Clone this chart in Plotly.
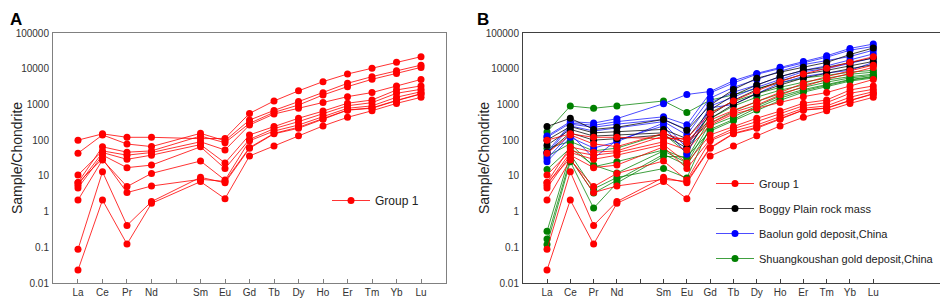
import plotly.graph_objects as go

elements = ["La", "Ce", "Pr", "Nd", "Sm", "Eu", "Gd", "Tb", "Dy", "Ho", "Er", "Tm", "Yb", "Lu"]
axis_categories = ["La", "Ce", "Pr", "Nd", " ", "Sm", "Eu", "Gd", "Tb", "Dy", "Ho", "Er", "Tm", "Yb", "Lu"]
axis_labels = ["La", "Ce", "Pr", "Nd", "", "Sm", "Eu", "Gd", "Tb", "Dy", "Ho", "Er", "Tm", "Yb", "Lu"]
y_tickvals = [0.01, 0.1, 1, 10, 100, 1000, 10000, 100000]
y_ticktext = ["0.01", "0.1", "1", "10", "100", "1000", "10000", "100000"]

group1 = [
    [100, 150, 120, 120, 110, 112, 560, 1250, 2400, 4350, 7100, 10300, 15100, 21700],
    [43, 140, 78, 66, 155, 96, 365, 680, 1200, 2130, 3900, 6000, 8800, 12600],
    [6.5, 65, 46, 50, 130, 85, 295, 600, 960, 1840, 3150, 5050, 7400, 10900],
    [10.5, 50, 38, 45, 90, 53, 265, 540, 780, 1140, 1650, 2150, 3300, 5000],
    [5.5, 45, 29, 38, 75, 23, 140, 240, 410, 650, 1080, 1330, 2540, 3300],
    [4.6, 38, 17, 20, 65, 16, 105, 210, 330, 540, 920, 1120, 2050, 2650],
    [2.1, 28, 5.0, 11.7, 26, 7.6, 96, 180, 265, 455, 780, 910, 1590, 2270],
    [6.4, 30, 3.4, 5.2, 8.0, 7.0, 62, 155, 230, 400, 700, 800, 1300, 2000],
    [0.088, 13, 0.41, 1.9, 9.1, 6.4, 59, 150, 215, 385, 690, 780, 1270, 1960],
    [0.023, 2.1, 0.123, 1.7, 6.9, 2.3, 36, 69, 133, 250, 435, 665, 1070, 1580],
]

boggy_plain = [
    [240, 410, 200, 230, 380, 190, 950, 2600, 5400, 8000, 11000, 15000, 25000, 38000],
    [100, 240, 160, 170, 200, 110, 700, 1800, 3500, 6000, 9000, 11000, 15000, 20000],
    [72, 200, 130, 140, 160, 80, 500, 1300, 2600, 4500, 7000, 9000, 12000, 16000],
    [45, 160, 100, 110, 140, 60, 400, 1000, 2000, 3500, 5500, 7500, 10000, 13000],
]

baolun = [
    [130, 330, 300, 400, 1050, 1900, 2300, 4600, 7400, 11000, 15800, 23000, 37000, 49000],
    [120, 300, 260, 330, 450, 270, 2100, 4000, 7000, 10000, 15000, 21000, 33000, 42000],
    [46, 280, 230, 280, 380, 200, 1500, 3000, 5000, 8500, 13000, 17000, 22000, 33000],
    [40, 250, 180, 220, 330, 140, 1100, 2200, 3500, 6000, 9000, 12000, 17500, 26000],
    [25, 120, 60, 90, 300, 60, 900, 1600, 3000, 5000, 8300, 10000, 14000, 20000],
    [30, 150, 31, 100, 250, 40, 800, 1000, 2000, 4000, 6000, 7600, 9000, 15000],
]

shuangkoushan = [
    [170, 900, 780, 900, 1250, 590, 1320, 1850, 2800, 4000, 5500, 6500, 8000, 9000],
    [59, 92, 50, 60, 150, 44, 600, 1200, 2000, 3000, 4200, 5400, 7000, 8000],
    [35, 80, 18, 25, 53, 30, 400, 900, 1600, 2500, 3500, 4800, 6000, 7000],
    [15, 60, 20, 12, 50, 23, 300, 650, 1200, 2000, 3000, 4200, 5500, 6500],
    [0.28, 40, 4.3, 9, 16, 8.7, 250, 450, 900, 1700, 2600, 3600, 5000, 6000],
    [0.17, 30, 3.3, 7.6, 40, 20, 200, 380, 800, 1500, 2400, 3400, 4800, 5800],
    [0.12, 25, 1.25, 6.3, 35, 34, 180, 350, 700, 1300, 2200, 3200, 4500, 5500],
]

series_b = [
    ("Shuangkoushan gold deposit,China", shuangkoushan, "#008000", "rgba(0,128,0,0.75)", 4),
    ("Baolun gold deposit,China", baolun, "#0000ff", "rgba(0,0,255,0.7)", 3),
    ("Boggy Plain rock mass", boggy_plain, "#000000", "rgba(0,0,0,0.75)", 2),
    ("Group 1", group1, "#ff0000", "rgba(255,0,0,0.8)", 1),
]

# page body has an 8px margin; figure is sized so that it fits the window
OFF = 8
W, H = 948 - OFF, 299 - OFF


def px(X):
    return (X - OFF) / W


def py(Y):
    return 1 - (Y - OFF) / H


FONT = "Liberation Sans, Arial, sans-serif"
fig = go.Figure()

# Panel A
for i, vals in enumerate(group1):
    fig.add_trace(go.Scatter(
        x=elements, y=vals, mode="lines+markers", xaxis="x", yaxis="y",
        line=dict(color="rgba(255,0,0,0.8)", width=1),
        marker=dict(color="#ff0000", size=7),
        name="Group 1", showlegend=(i == 0), legend="legend",
    ))

# Panel B
for name, data, mcol, lcol, rank in series_b:
    for i, vals in enumerate(data):
        fig.add_trace(go.Scatter(
            x=elements, y=vals, mode="lines+markers", xaxis="x2", yaxis="y2",
            line=dict(color=lcol, width=1),
            marker=dict(color=mcol, size=7),
            name=name, showlegend=(i == 0), legend="legend2",
            legendgroup=name, legendrank=rank,
        ))


def xaxis(domain, rng, linecolor):
    return dict(
        domain=domain, type="category", categoryorder="array",
        categoryarray=axis_categories, tickmode="array",
        tickvals=axis_categories, ticktext=axis_labels, range=rng,
        showline=True, mirror=True, linecolor=linecolor, linewidth=1,
        ticks="inside", ticklen=4, tickcolor=linecolor, showgrid=False,
        zeroline=False, automargin=False, ticklabelstandoff=0,
        tickfont=dict(family=FONT, size=10, color="#333333"),
    )


def yaxis(anchor, linecolor):
    return dict(
        domain=[py(283), py(33)], type="log", range=[-2, 5], anchor=anchor,
        tickmode="array", tickvals=y_tickvals, ticktext=y_ticktext,
        showline=True, mirror=True, linecolor=linecolor, linewidth=1,
        ticks="", showgrid=False, zeroline=False, ticklabelstandoff=1,
        automargin=False,
        tickfont=dict(family=FONT, size=10, color="#333333"),
    )


fig.update_layout(
    template="none",
    width=W, height=H,
    margin=dict(l=0, r=0, t=0, b=0, autoexpand=False),
    paper_bgcolor="white", plot_bgcolor="white",
    font=dict(family=FONT, size=12, color="#222222"),
    xaxis=dict(**xaxis([px(53), px(446)], [-1.02, 15.02], "#808080"), anchor="y"),
    yaxis=yaxis("x", "#808080"),
    xaxis2=dict(**xaxis([px(523), px(946)], [-1.03, 17.12], "#404040"), anchor="y2"),
    yaxis2=yaxis("x2", "#404040"),
    legend=dict(x=px(327), y=py(186), xanchor="left", yanchor="top", itemwidth=38,
                bgcolor="rgba(0,0,0,0)", font=dict(family=FONT, size=12, color="#222222")),
    legend2=dict(x=px(711), y=py(169), xanchor="left", yanchor="top", itemwidth=38,
                 bgcolor="rgba(0,0,0,0)", tracegroupgap=6,
                 font=dict(family=FONT, size=11, color="#222222")),
    annotations=[
        dict(text="<b>A</b>", x=px(8), y=py(8), xref="paper", yref="paper",
             xanchor="left", yanchor="top", showarrow=False,
             font=dict(family=FONT, size=17, color="black")),
        dict(text="<b>B</b>", x=px(475), y=py(8), xref="paper", yref="paper",
             xanchor="left", yanchor="top", showarrow=False,
             font=dict(family=FONT, size=17, color="black")),
        dict(text="Sample/Chondrite", x=px(17), y=py(158), xref="paper", yref="paper",
             textangle=-90, showarrow=False, xanchor="center", yanchor="middle",
             font=dict(family=FONT, size=14, color="#222222")),
        dict(text="Sample/Chondrite", x=px(484), y=py(158), xref="paper", yref="paper",
             textangle=-90, showarrow=False, xanchor="center", yanchor="middle",
             font=dict(family=FONT, size=14, color="#222222")),
    ],
)

fig.write_html("out.html")
